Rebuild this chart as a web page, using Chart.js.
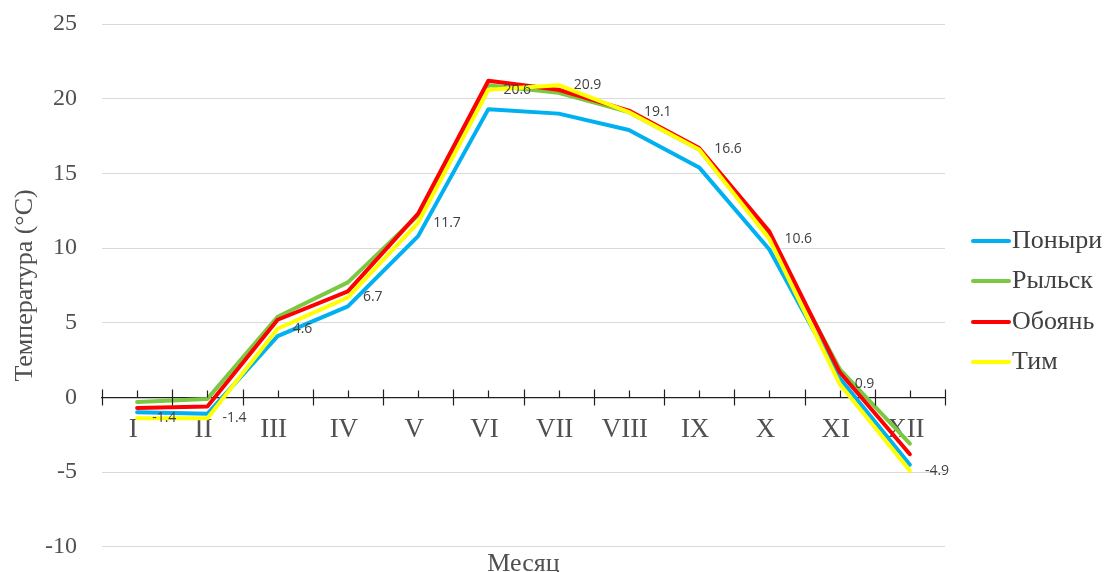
<!DOCTYPE html>
<html>
<head>
<meta charset="utf-8">
<script src="https://cdn.jsdelivr.net/npm/chart.js@4.4.1/dist/chart.umd.min.js"></script>
<style>
  html, body { margin: 0; padding: 0; background: #fff; }
  #wrap { width: 1106px; height: 572px; }
</style>
</head>
<body>
<div id="wrap"><canvas id="chart"></canvas></div>
<script>
// Data
const months = ['I', 'II', 'III', 'IV', 'V', 'VI', 'VII', 'VIII', 'IX', 'X', 'XI', 'XII'];
const ponyri = [-1.0, -1.1, 4.1, 6.1, 10.8, 19.3, 19.0, 17.9, 15.4, 9.9, 1.3, -4.5];
const rylsk = [-0.3, -0.1, 5.4, 7.7, 12.2, 20.9, 20.4, 19.1, 16.6, 10.7, 1.9, -3.1];
const oboyan = [-0.7, -0.6, 5.2, 7.1, 12.3, 21.2, 20.6, 19.2, 16.7, 11.1, 1.7, -3.8];
const tim = [-1.4, -1.4, 4.6, 6.7, 11.7, 20.6, 20.9, 19.1, 16.6, 10.6, 0.9, -4.9];
const yTicks = [-10, -5, 0, 5, 10, 15, 20, 25];

const serif = "'Liberation Serif', 'DejaVu Serif', serif";
const textColor = '#505050';

// axis tick marks: long ones at category edges, short ones at category centres
const axisTicks = {
    id: 'axisTicks',
    afterDatasetsDraw(chart) {
        const { ctx, chartArea, scales: { x, y } } = chart;
        const y0 = y.getPixelForValue(0);
        const step = (chartArea.right - chartArea.left) / months.length;
        ctx.save();
        ctx.strokeStyle = '#202020';
        ctx.lineWidth = 1.2;
        ctx.beginPath();
        for (let i = 0; i <= months.length; i++) {
            const bx = Math.round(chartArea.left + i * step) + 0.5;
            ctx.moveTo(bx, y0 - 8);
            ctx.lineTo(bx, y0 + 8);
        }
        months.forEach((m, i) => {
            const cx = Math.round(x.getPixelForValue(i)) + 0.5;
            ctx.moveTo(cx, y0 - 7);
            ctx.lineTo(cx, y0);
        });
        ctx.stroke();
        ctx.restore();
    }
};

// value labels for the "Тим" series
const valueLabels = {
    id: 'valueLabels',
    afterDatasetsDraw(chart) {
        const { ctx } = chart;
        const meta = chart.getDatasetMeta(3);
        ctx.save();
        ctx.font = "14px 'Open Sans', 'Liberation Sans', sans-serif";
        ctx.fillStyle = '#404040';
        ctx.textAlign = 'left';
        ctx.textBaseline = 'middle';
        meta.data.forEach((pt, i) => {
            ctx.fillText(tim[i].toFixed(1), pt.x + 15, pt.y);
        });
        ctx.restore();
    }
};

// legend on the right, short line + name
const sideLegend = {
    id: 'sideLegend',
    afterDraw(chart) {
        const { ctx, chartArea } = chart;
        const x0 = chartArea.right + 28;
        const yc = (chartArea.top + chartArea.bottom) / 2 + 16;
        const sets = chart.data.datasets;
        ctx.save();
        ctx.font = '26px ' + serif;
        ctx.textAlign = 'left';
        ctx.textBaseline = 'middle';
        sets.forEach((ds, i) => {
            const yy = Math.round(yc + (i - (sets.length - 1) / 2) * 40.5);
            ctx.strokeStyle = ds.borderColor;
            ctx.lineWidth = 4;
            ctx.lineCap = 'round';
            ctx.beginPath();
            ctx.moveTo(x0, yy);
            ctx.lineTo(x0 + 36, yy);
            ctx.stroke();
            ctx.fillStyle = '#404040';
            ctx.fillText(ds.label, x0 + 39, yy);
        });
        ctx.restore();
    }
};

function series(label, data, color, order) {
    return {
        label: label,
        data: data,
        borderColor: color,
        backgroundColor: color,
        borderWidth: 4,
        pointRadius: 0,
        pointHoverRadius: 0,
        tension: 0,
        borderJoinStyle: 'round',
        borderCapStyle: 'round',
        order: order
    };
}

new Chart(document.getElementById('chart'), {
    type: 'line',
    data: {
        labels: months,
        datasets: [
            series('Поныри', ponyri, '#00B0F0', 4),
            series('Рыльск', rylsk, '#7BC943', 3),
            series('Обоянь', oboyan, '#FF0000', 2),
            series('Тим', tim, '#FFFF00', 1)
        ]
    },
    options: {
        responsive: true,
        maintainAspectRatio: false,
        animation: false,
        layout: { padding: { left: 10, top: 24, right: 161, bottom: -8 } },
        plugins: {
            legend: { display: false },
            title: {
                display: true,
                position: 'bottom',
                fullSize: false,
                text: 'Месяц',
                color: textColor,
                font: { family: serif, size: 26, weight: 'normal' },
                padding: { top: 2, bottom: 0 }
            },
            tooltip: { enabled: false }
        },
        scales: {
            x: {
                position: { y: 0 },
                offset: true,
                afterFit: axis => { axis.height = 0; },
                grid: { display: true, drawOnChartArea: false, drawTicks: false },
                border: { display: true, color: '#202020', width: 1.2 },
                ticks: {
                    color: textColor,
                    font: { family: serif, size: 27 },
                    padding: 16,
                    labelOffset: -4,
                    maxRotation: 0
                }
            },
            y: {
                min: -10,
                max: 25,
                afterBuildTicks: axis => { axis.ticks = yTicks.map(v => ({ value: v })); },
                afterFit: axis => { axis.width = 92; },
                grid: { color: '#d9d9d9', lineWidth: 1, drawTicks: true, tickLength: 25, tickColor: 'rgba(0,0,0,0)' },
                border: { display: false },
                ticks: {
                    color: textColor,
                    font: { family: serif, size: 24 },
                    padding: 0
                },
                title: {
                    display: true,
                    text: 'Температура (°C)',
                    color: textColor,
                    font: { family: serif, size: 26 },
                    padding: { top: 0, bottom: 0 }
                }
            }
        }
    },
    plugins: [axisTicks, valueLabels, sideLegend]
});
</script>
</body>
</html>
